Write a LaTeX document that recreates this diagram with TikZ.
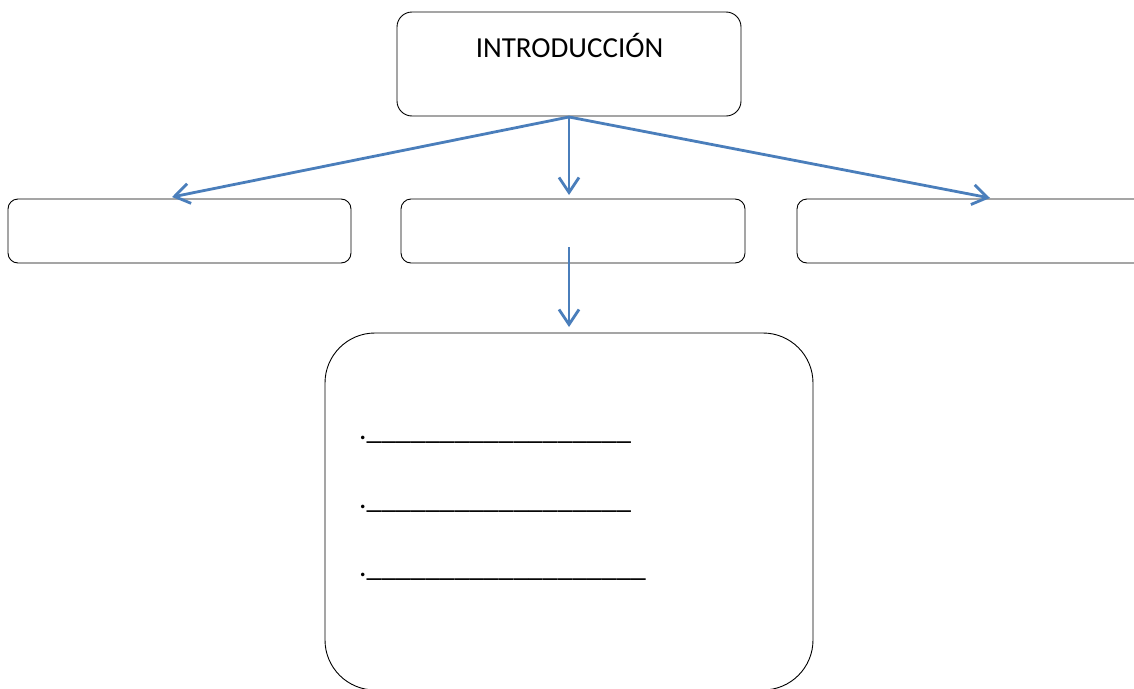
\documentclass[tikz,border=0pt]{standalone}
\usepackage{fontspec}
\setmainfont{Carlito}
\usetikzlibrary{arrows.meta}
\definecolor{arrowblue}{HTML}{4A7EBB}
\tikzset{
  box/.style={draw=black, line width=0.9pt, fill=white, rectangle, inner sep=0pt},
  conn/.style={draw=arrowblue, line width=2.8pt, -{Straight Barb[length=15pt,width=20pt,line width=2.8pt]}},
  txt/.style={inner sep=0pt, font=\fontsize{29.5}{34}\selectfont, anchor=base west}
}
\begin{document}
\begin{tikzpicture}[x=1pt,y=-1pt]
\useasboundingbox (0,0) rectangle (1134,688);
\node[box, rounded corners=15pt, minimum width=344pt, minimum height=104pt] (intro) at (569,64) {};
\node[inner sep=0pt, font=\fontsize{29}{34}\selectfont, anchor=base] (introtxt) at (569.5,57) {INTRODUCCIÓN};
\node[box, rounded corners=10pt, minimum width=343pt, minimum height=64pt] (left) at (179.5,231) {};
\node[box, rounded corners=10pt, minimum width=344pt, minimum height=64pt] (mid) at (573,231) {};
\node[box, rounded corners=10pt, minimum width=386pt, minimum height=64pt] (right) at (990,231) {};
\node[box, rounded corners=50pt, minimum width=488pt, minimum height=357pt] (bottom) at (569,511.5) {};
\coordinate (src) at (569,117);
\coordinate (lend) at (172,197);
\coordinate (mend) at (569,195);
\coordinate (rend) at (990,198);
\coordinate (dstart) at (569,247);
\coordinate (dend) at (569,327);
\draw[conn] (src) -- (lend);
\draw[conn] (src) -- (mend);
\draw[conn] (src) -- (rend);
\draw[conn] (dstart) -- (dend);
\node[txt] (l1) at (359,439) {.\_\_\_\_\_\_\_\_\_\_\_\_\_\_\_\_\_\_};
\node[txt] (l2) at (359,508) {.\_\_\_\_\_\_\_\_\_\_\_\_\_\_\_\_\_\_};
\node[txt] (l3) at (359,576) {.\_\_\_\_\_\_\_\_\_\_\_\_\_\_\_\_\_\_\_};
\end{tikzpicture}
\end{document}
